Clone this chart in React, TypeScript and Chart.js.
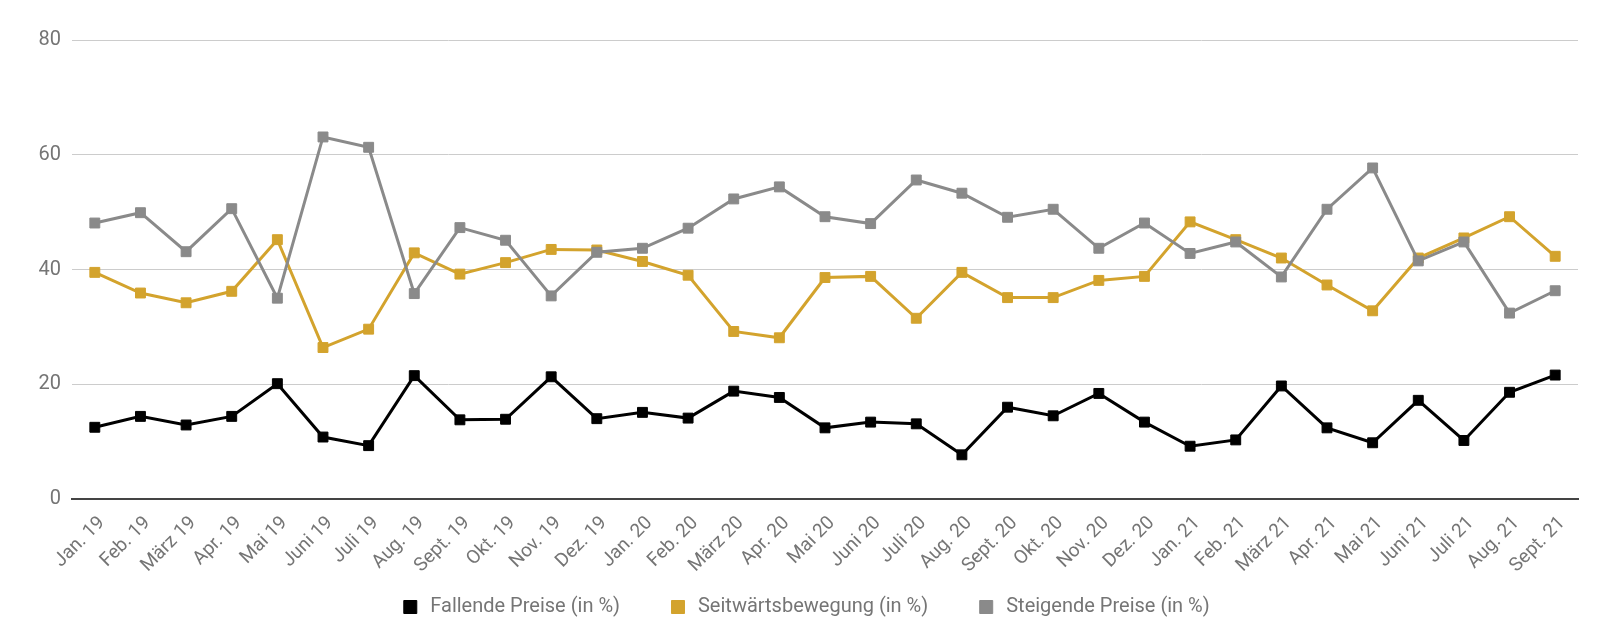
import React, { useEffect, useRef } from "react";
import { Chart, registerables } from "chart.js";

Chart.register(...registerables);

const categories = [
  "Jan. 19", "Feb. 19", "März 19", "Apr. 19", "Mai 19", "Juni 19", "Juli 19", "Aug. 19",
  "Sept. 19", "Okt. 19", "Nov. 19", "Dez. 19", "Jan. 20", "Feb. 20", "März 20", "Apr. 20",
  "Mai 20", "Juni 20", "Juli 20", "Aug. 20", "Sept. 20", "Okt. 20", "Nov. 20", "Dez. 20",
  "Jan. 21", "Feb. 21", "März 21", "Apr. 21", "Mai 21", "Juni 21", "Juli 21", "Aug. 21", "Sept. 21",
];

const fallendePreise = [
  12.5, 14.4, 12.9, 14.4, 20.1, 10.8, 9.3, 21.5, 13.8, 13.9,
  21.3, 14.0, 15.1, 14.1, 18.8, 17.7, 12.4, 13.4, 13.1, 7.7, 16.0, 14.5,
  18.4, 13.4, 9.2, 10.3, 19.7, 12.4, 9.8, 17.2, 10.2, 18.6, 21.6,
];

const seitwaerts = [
  39.5, 35.9, 34.2, 36.2, 45.2, 26.4, 29.6, 42.9, 39.2, 41.2,
  43.5, 43.4, 41.4, 39.0, 29.2, 28.1, 38.6, 38.8, 31.5, 39.5, 35.1, 35.1,
  38.1, 38.8, 48.3, 45.2, 42.0, 37.3, 32.8, 42.0, 45.5, 49.2, 42.3,
];

const steigendePreise = [
  48.1, 49.9, 43.1, 50.6, 35.0, 63.1, 61.3, 35.8, 47.3, 45.1,
  35.4, 43.0, 43.7, 47.2, 52.3, 54.4, 49.2, 48.0, 55.6, 53.3, 49.1, 50.5,
  43.7, 48.1, 42.8, 44.8, 38.7, 50.5, 57.7, 41.5, 44.8, 32.4, 36.3,
];

const yTicks = [0, 20, 40, 60, 80];

const seriesNames = ["Fallende Preise (in %)", "Seitwärtsbewegung (in %)", "Steigende Preise (in %)"];
const seriesColors = ["#000000", "#D3A32D", "#8A8A8A"];

const FONT = "Roboto, 'Noto Sans', sans-serif";
const TEXT_COLOR = "#757575";

export default function App() {
  const canvasRef = useRef<HTMLCanvasElement | null>(null);

  useEffect(() => {
    if (!canvasRef.current) return;
    const values = [fallendePreise, seitwaerts, steigendePreise];
    const chart = new Chart(canvasRef.current, {
      type: "line",
      data: {
        labels: categories,
        datasets: values.map((v, i) => ({
          label: seriesNames[i],
          data: v,
          borderColor: seriesColors[i],
          backgroundColor: seriesColors[i],
          pointBackgroundColor: seriesColors[i],
          pointBorderColor: seriesColors[i],
          borderWidth: 3,
          pointStyle: "rect",
          pointRadius: 7,
          pointBorderWidth: 1,
          tension: 0,
          fill: false,
          order: 2 - i,
        })),
      },
      options: {
        responsive: false,
        animation: false,
        devicePixelRatio: 1,
        layout: { padding: { left: 32, right: 26, top: 40, bottom: 14 } },
        plugins: {
          tooltip: { enabled: false },
          legend: {
            position: "bottom",
            labels: {
              sort: (a: any, b: any) => a.datasetIndex - b.datasetIndex,
              usePointStyle: true,
              boxWidth: 20,
              boxHeight: 13,
              padding: 48,
              color: TEXT_COLOR,
              font: { family: FONT, size: 20 },
            },
          },
        },
        scales: {
          x: {
            type: "category",
            offset: true,
            grid: { display: false, drawTicks: false },
            border: { display: true, color: "#444444", width: 2 },
            ticks: {
              color: TEXT_COLOR,
              font: { family: FONT, size: 19 },
              minRotation: 45,
              maxRotation: 45,
              autoSkip: false,
              padding: 13,
              labelOffset: 7,
            },
            afterFit: (scale: any) => {
              scale.height = 50;
              // let the rotated labels extend below the (short) axis box
              scale._computeLabelArea = () => undefined;
            },
          },
          y: {
            min: 0,
            max: 80,
            afterBuildTicks: (scale: any) => {
              scale.ticks = yTicks.map((v) => ({ value: v }));
            },
            grid: { color: "#CCCCCC", lineWidth: 1, drawTicks: false },
            border: { display: false },
            ticks: {
              color: TEXT_COLOR,
              font: { family: FONT, size: 20 },
              padding: 11,
            },
            afterFit: (scale: any) => {
              scale.width = 40;
            },
          },
        },
      },
    });
    return () => chart.destroy();
  }, []);

  return (
    <div style={{ position: "fixed", left: 0, top: 0, width: 1604, height: 641, background: "#fff" }}>
      <canvas ref={canvasRef} width={1604} height={641} />
    </div>
  );
}
